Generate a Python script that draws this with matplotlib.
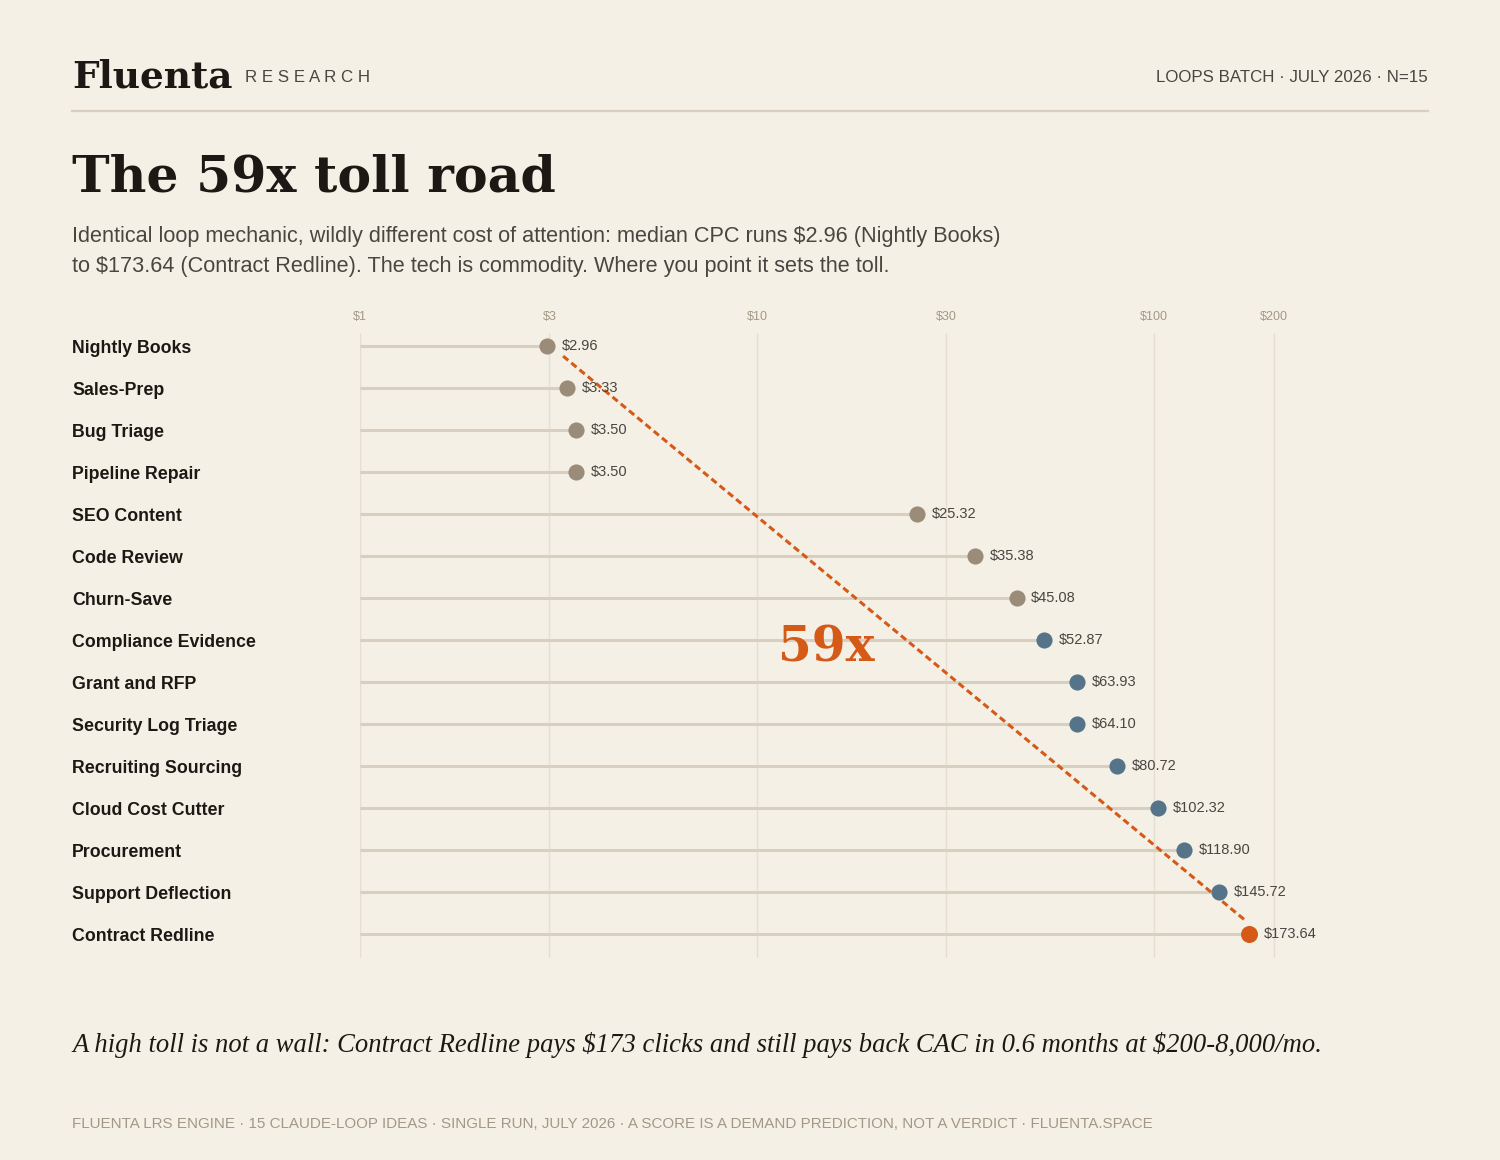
import matplotlib
matplotlib.use("Agg")
import matplotlib.pyplot as plt
import numpy as np

categories = ["Nightly Books", "Sales-Prep", "Bug Triage", "Pipeline Repair", "SEO Content",
              "Code Review", "Churn-Save", "Compliance Evidence", "Grant and RFP",
              "Security Log Triage", "Recruiting Sourcing", "Cloud Cost Cutter",
              "Procurement", "Support Deflection", "Contract Redline"]
cpc = [2.96, 3.33, 3.50, 3.50, 25.32, 35.38, 45.08, 52.87, 63.93, 64.10, 80.72,
       102.32, 118.90, 145.72, 173.64]
groups = ["low"] * 7 + ["high"] * 7 + ["top"]
tick_values = [1, 3, 10, 30, 100, 200]
tick_labels = ["$1", "$3", "$10", "$30", "$100", "$200"]

BG = "#F5F0E6"
GRAY = "#9A8C79"
BLUE = "#557489"
ORANGE = "#D55A18"
STEM = "#D8CFBE"
GRID = "#E5DED1"
INK = "#1C1915"
TEXT = "#4A4540"
MUTED = "#A39886"
color_map = {"low": GRAY, "high": BLUE, "top": ORANGE}

W, H = 1500, 1160
fig = plt.figure(figsize=(W / 100, H / 100), dpi=100, facecolor=BG)

def fx(x):
    return x / W

def fy(y):
    return 1 - y / H

# axes geometry (pixels)
x_left = 360
decade = 397
x_right = x_left + 2.5 * decade
y_top, y_bot = 333, 958
ax = fig.add_axes([fx(x_left), fy(y_bot), (x_right - x_left) / W, (y_bot - y_top) / H])
ax.set_facecolor(BG)
ax.set_xscale("log")
ax.set_xlim(1, 10 ** 2.5)
row0, row_step = 346, 42
ax.set_ylim((y_bot - row0) / row_step, (y_top - row0) / row_step)
for s in ax.spines.values():
    s.set_visible(False)
ax.set_yticks([])
ax.xaxis.tick_top()
ax.set_xticks(tick_values)
ax.set_xticklabels(tick_labels)
ax.xaxis.set_minor_locator(matplotlib.ticker.NullLocator())
ax.tick_params(axis="x", length=0, pad=7, labelsize=9, labelcolor=MUTED)
for lbl in ax.get_xticklabels():
    lbl.set_fontfamily("Liberation Sans")
for t in tick_values:
    ax.axvline(t, color=GRID, lw=1.0, zorder=0)

for i, (v, g) in enumerate(zip(cpc, groups)):
    ax.plot([1, v], [i, i], color=STEM, lw=2.2, solid_capstyle="butt", zorder=1)
    ax.scatter([v], [i], s=135 if g != "top" else 150, color=color_map[g], zorder=3, linewidths=0)
    ax.annotate(f"${v:.2f}", (v, i), xytext=(10.5, 0), textcoords="offset points",
                va="center", ha="left", fontsize=10.5, color=TEXT, family="Liberation Sans",
                zorder=4, parse_math=False)

# dashed ratio line from lowest to highest
ax.plot([cpc[0] * 1.097, cpc[-1] * 0.976], [0.24, len(cpc) - 1 - 0.33], color=ORANGE,
        lw=2.2, ls=(0, (2.2, 1.3)), zorder=2)
ax.text(14.9, 7.2, "59x", color=ORANGE, fontsize=35, fontweight="bold", family="DejaVu Serif",
        ha="center", va="center", zorder=4)

# category labels
for i, c in enumerate(categories):
    fig.text(fx(72), fy(row0 + i * row_step + 2.5), c, fontsize=12.8, fontweight="bold",
             color=INK, family="Liberation Sans", ha="left", va="center")

# header
fig.text(fx(72), fy(88), "Fluenta", fontsize=27, fontweight="bold", family="DejaVu Serif",
         color=INK, ha="left", va="baseline")
fig.text(fx(245), fy(82), "R E S E A R C H", fontsize=12.2, family="Liberation Sans",
         color=TEXT, ha="left", va="baseline")
fig.text(fx(1428), fy(82), "LOOPS BATCH · JULY 2026 · N=15", fontsize=12.2,
         family="Liberation Sans", color=TEXT, ha="right", va="baseline")
fig.add_artist(plt.Line2D([fx(72), fx(1428)], [fy(110.5), fy(110.5)], color=STEM, lw=1.6))

# title and subtitle
fig.text(fx(72), fy(191), "The 59x toll road", fontsize=36.4, fontweight="bold",
         family="DejaVu Serif", color=INK, ha="left", va="baseline")
fig.text(fx(72), fy(242), "Identical loop mechanic, wildly different cost of attention: median CPC runs $2.96 (Nightly Books)",
         fontsize=15.6, family="Liberation Sans", color=TEXT, ha="left", va="baseline", parse_math=False)
fig.text(fx(72), fy(272), "to $173.64 (Contract Redline). The tech is commodity. Where you point it sets the toll.",
         fontsize=15.6, family="Liberation Sans", color=TEXT, ha="left", va="baseline", parse_math=False)

# footnote and footer
fig.text(fx(72), fy(1052), "A high toll is not a wall: Contract Redline pays $173 clicks and still pays back CAC in 0.6 months at $200-8,000/mo.",
         fontsize=19.2, style="italic", family="Liberation Serif", color=INK, ha="left", va="baseline",
         parse_math=False)
fig.text(fx(72), fy(1128), "FLUENTA LRS ENGINE · 15 CLAUDE-LOOP IDEAS · SINGLE RUN, JULY 2026 · A SCORE IS A DEMAND PREDICTION, NOT A VERDICT · FLUENTA.SPACE",
         fontsize=10.9, family="Liberation Sans", color=MUTED, ha="left", va="baseline")

fig.savefig("out.png", dpi=100, facecolor=BG)
